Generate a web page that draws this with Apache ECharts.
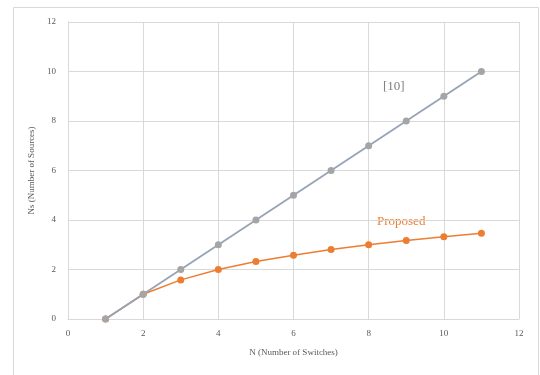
<!DOCTYPE html>
<html>
<head>
<meta charset="utf-8">
<script src="https://cdn.jsdelivr.net/npm/echarts@6/dist/echarts.min.js"></script>
<style>html,body{margin:0;padding:0;background:#fff;}#c{width:540px;height:375px;}</style>
</head>
<body>
<div id="c"></div>
<script>
const nValues = [1, 2, 3, 4, 5, 6, 7, 8, 9, 10, 11];
const ref10 = [0, 1, 2, 3, 4, 5, 6, 7, 8, 9, 10];
const proposed = [0, 1, 1.58, 2, 2.32, 2.58, 2.81, 3, 3.17, 3.32, 3.46];
const xTitle = 'N (Number of Switches)';
const yTitle = 'Ns (Number of Sources)';
const ref10Name = '[10]';
const proposedName = 'Proposed';

const font = 'Liberation Serif, Times New Roman, serif';
const chart = echarts.init(document.getElementById('c'));
chart.setOption({
  animation: false,
  backgroundColor: '#fff',
  grid: { left: 68, right: 21, top: 22, bottom: 56 },
  xAxis: {
    type: 'value', min: 0, max: 12, interval: 2,
    name: xTitle, nameLocation: 'middle', nameGap: 29,
    nameTextStyle: { fontFamily: font, fontSize: 9, color: '#595959' },
    axisLine: { show: true, lineStyle: { color: '#d9d9d9' } },
    axisTick: { show: false },
    axisLabel: { fontFamily: font, fontSize: 9, color: '#595959', margin: 10 },
    splitLine: { show: true, lineStyle: { color: '#d9d9d9', width: 1 } }
  },
  yAxis: {
    type: 'value', min: 0, max: 12, interval: 2,
    name: yTitle, nameLocation: 'middle', nameGap: 28,
    nameTextStyle: { fontFamily: font, fontSize: 9, color: '#595959' },
    axisLine: { show: true, lineStyle: { color: '#d9d9d9' } },
    axisTick: { show: false },
    axisLabel: { fontFamily: font, fontSize: 9, color: '#595959', margin: 12 },
    splitLine: { show: true, lineStyle: { color: '#d9d9d9', width: 1 } }
  },
  series: [
    {
      name: proposedName, type: 'line',
      data: nValues.map((n, i) => [n, proposed[i]]),
      symbol: 'circle', symbolSize: 7,
      lineStyle: { color: '#ed7d31', width: 1.5 },
      itemStyle: { color: '#ed7d31' }
    },
    {
      name: ref10Name, type: 'line',
      data: nValues.map((n, i) => [n, ref10[i]]),
      symbol: 'circle', symbolSize: 7,
      lineStyle: { color: '#97a3b8', width: 1.8 },
      itemStyle: { color: '#a5a5a5' }
    }
  ],
  graphic: [
    { type: 'rect', shape: { x: 13.5, y: 7.5, width: 525, height: 380 },
      style: { fill: 'none', stroke: '#d9d9d9', lineWidth: 1 }, silent: true },
    { type: 'text', left: 383, top: 80,
      style: { text: ref10Name, fontFamily: font, fontSize: 13, fill: '#7f7f7f' } },
    { type: 'text', left: 377, top: 215,
      style: { text: proposedName, fontFamily: font, fontSize: 13, fill: '#ed7d31' } }
  ]
});
</script>
</body>
</html>
